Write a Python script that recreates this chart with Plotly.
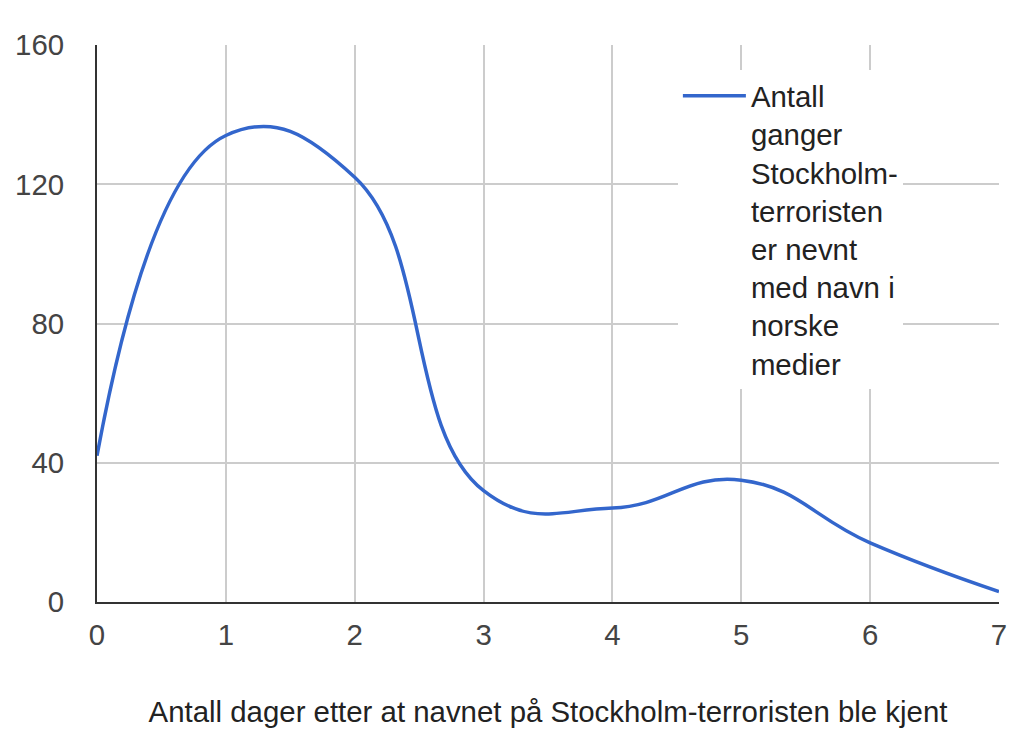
import plotly.graph_objects as go

# Data
dager = [0, 1, 2, 3, 4, 5, 6, 7]
antall = [42, 134, 122, 32, 27, 35, 17, 3]
serie_navn = "Antall<br>ganger<br>Stockholm-<br>terroristen<br>er nevnt<br>med navn i<br>norske<br>medier"
x_tittel = "Antall dager etter at navnet på Stockholm-terroristen ble kjent"
y_ticks = [0, 40, 80, 120, 160]

font_family = "Arial, Liberation Sans, sans-serif"

fig = go.Figure()
fig.add_trace(go.Scatter(
    x=dager,
    y=antall,
    mode="lines",
    name=serie_navn,
    line=dict(color="#3366cc", width=3.5, shape="spline", smoothing=1.3),
))

fig.update_layout(
    width=1024,
    height=743,
    margin=dict(l=89, r=33, t=37, b=149),
    paper_bgcolor="white",
    plot_bgcolor="white",
    font=dict(family=font_family, size=29.4, color="#444444"),
    showlegend=True,
    legend=dict(
        x=0.644, y=0.955, xanchor="left", yanchor="top",
        bgcolor="white",
        font=dict(size=29.4, color="#222222"),
        valign="top",
        itemwidth=63,
        tracegroupgap=0,
    ),
)

fig.update_xaxes(
    range=[0, 7],
    dtick=1,
    automargin=False,
    showgrid=True, gridcolor="#cccccc", gridwidth=1.5,
    showline=True, linecolor="#333333", linewidth=2,
    zeroline=False,
    ticks="", ticklabelstandoff=6,
    title=dict(text=x_tittel, font=dict(size=29.4, color="#222222"), standoff=51),
    mirror=False,
)
fig.update_yaxes(
    range=[0, 160],
    tickvals=y_ticks,
    automargin=False,
    showgrid=True, gridcolor="#cccccc", gridwidth=1.5,
    showline=True, linecolor="#333333", linewidth=2,
    zeroline=False,
    ticks="", ticklabelstandoff=25,
)

fig.write_html("out.html")
